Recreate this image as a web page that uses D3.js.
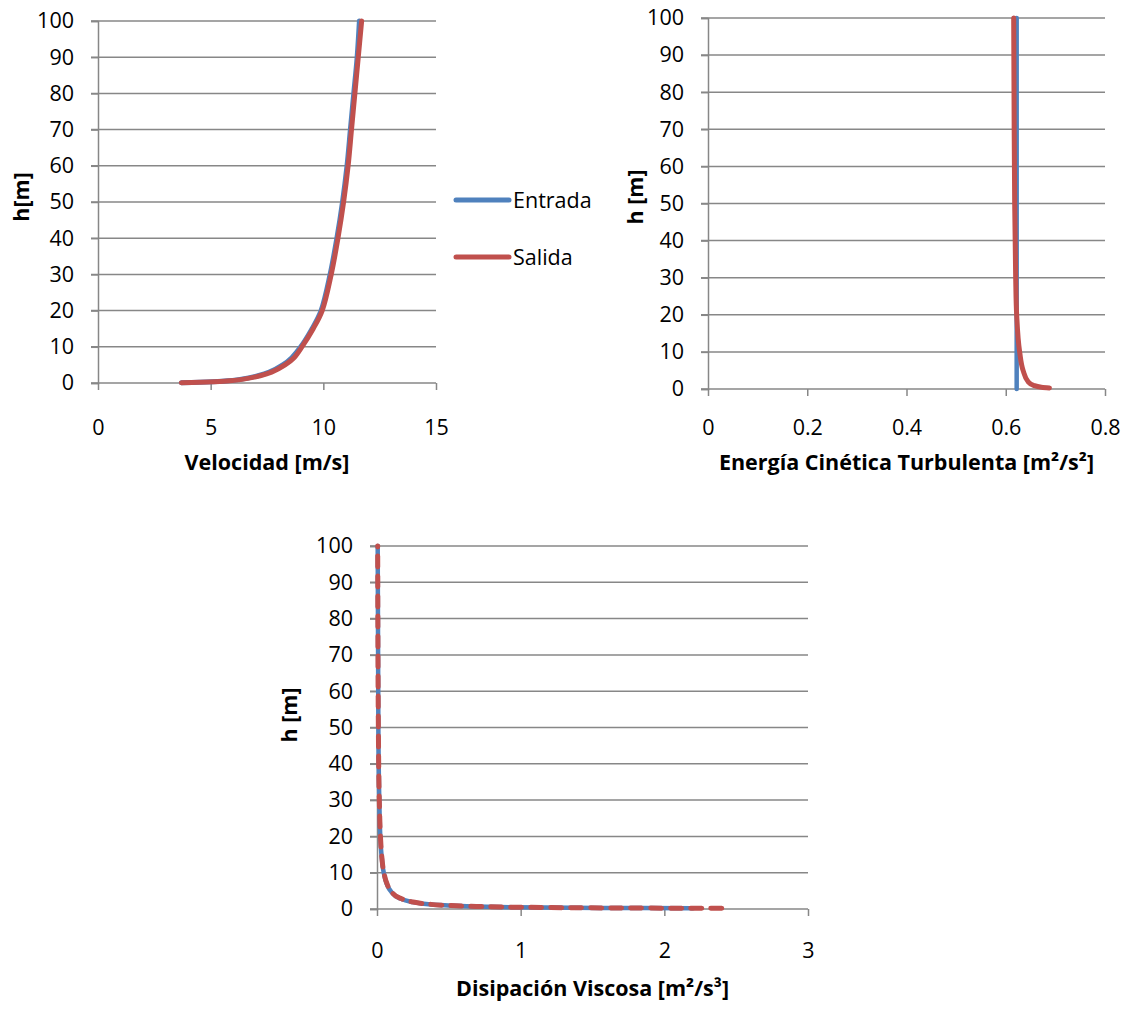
<!DOCTYPE html>
<html>
<head>
<meta charset="utf-8">
<script src="https://cdn.jsdelivr.net/npm/d3@7"></script>
<style>
  body { margin: 0; background: #fff; }
  text { font-family: "Open Sans", sans-serif; fill: #000; }
</style>
</head>
<body>
<div id="fig"></div>
<script>
// Settings
const SIZE = [1128, 1012]
const BLUE = "#4f81bd"
const RED = "#c0504d"
const GRID = "#878787"
const FONT = 21.5

// Velocidad (m/s) vs h (m)
const hVel = [0.1, 0.2, 0.5, 1, 2, 3, 5, 7, 10, 15, 20, 30, 40, 50, 60, 70, 80, 90, 100]
const velEntrada = [3.7, 4.5, 5.5, 6.3, 7.1, 7.6, 8.2, 8.6, 9.0, 9.5, 9.9, 10.3, 10.6, 10.85, 11.05, 11.2, 11.35, 11.5, 11.6]
const velSalida = [3.7, 4.5, 5.6, 6.4, 7.2, 7.7, 8.3, 8.7, 9.05, 9.55, 9.95, 10.35, 10.65, 10.9, 11.1, 11.25, 11.4, 11.55, 11.7]

// Energía cinética turbulenta (m2/s2) vs h (m)
const hTkeEntrada = [0, 100]
const tkeEntrada = [0.622, 0.622]
const hTkeSalida = [0.3, 0.5, 1, 2, 5, 10, 20, 30, 50, 70, 100]
const tkeSalida = [0.688, 0.672, 0.656, 0.645, 0.635, 0.628, 0.622, 0.62, 0.618, 0.617, 0.616]

// Disipación viscosa (m2/s3) vs h (m)
const hEps = [0.2, 0.25, 0.3, 0.4, 0.5, 0.7, 1, 1.5, 2, 3, 5, 7, 10, 15, 20, 30, 50, 100]
const epsEntrada = [2.2, 1.85, 1.55, 1.17, 0.94, 0.67, 0.47, 0.31, 0.235, 0.155, 0.094, 0.067, 0.047, 0.031, 0.023, 0.016, 0.0095, 0.0048]
const epsSalida = [2.4, 1.9, 1.6, 1.2, 0.96, 0.69, 0.48, 0.32, 0.24, 0.16, 0.096, 0.069, 0.048, 0.032, 0.024, 0.016, 0.0096, 0.0048]

const hTicks = d3.range(0, 101, 10)
const velTicks = [0, 5, 10, 15]
const tkeTicks = [0, 0.2, 0.4, 0.6, 0.8]
const epsTicks = [0, 1, 2, 3]

const legendLabels = ["Entrada", "Salida"]

const svg = d3.select("#fig").append("svg")
  .attr("width", SIZE[0])
  .attr("height", SIZE[1])

svg.append("rect").attr("width", SIZE[0]).attr("height", SIZE[1]).attr("fill", "#fff")

const zip = (hs, xs) => hs.map((h, i) => ({h: h, x: xs[i]}))

function createPanel(cfg) {
  const x = d3.scaleLinear().domain(cfg.xDomain).range(cfg.xRange)
  const y = d3.scaleLinear().domain([0, 100]).range(cfg.yRange)
  const g = svg.append("g")

  // horizontal grid
  g.append("g")
    .selectAll("line")
    .data(hTicks)
    .join("line")
      .attr("x1", cfg.xRange[0] - 7)
      .attr("x2", cfg.xRange[1])
      .attr("y1", d => y(d))
      .attr("y2", d => y(d))
      .attr("stroke", GRID)
      .attr("stroke-width", 1.5)

  // y axis
  const yAxis = g.append("g")
    .attr("transform", `translate(${cfg.xRange[0]},0)`)
    .call(d3.axisLeft(y).tickValues(hTicks).tickSize(7).tickPadding(17).tickFormat(d3.format("d")))
  yAxis.select(".domain").attr("stroke", GRID).attr("stroke-width", 1.5)
  yAxis.selectAll(".tick line").attr("stroke", GRID).attr("stroke-width", 1.5)
  yAxis.selectAll(".tick text").attr("font-size", FONT).attr("font-family", "Open Sans").attr("fill", "#000")

  // x axis
  const xAxis = g.append("g")
    .attr("transform", `translate(0,${cfg.yRange[0]})`)
    .call(d3.axisBottom(x).tickValues(cfg.xTicks).tickSize(7).tickSizeOuter(0).tickPadding(cfg.xPad).tickFormat(d => String(d)))
  xAxis.select(".domain").remove()
  xAxis.selectAll(".tick line").attr("stroke", GRID).attr("stroke-width", 1.5)
  xAxis.selectAll(".tick text").attr("font-size", FONT).attr("font-family", "Open Sans").attr("fill", "#000")

  const line = d3.line()
    .x(d => x(d.x))
    .y(d => y(d.h))
    .curve(cfg.curve)

  for (const s of cfg.series) {
    g.append("path")
      .datum(s.data)
      .attr("fill", "none")
      .attr("stroke", s.color)
      .attr("stroke-width", s.width)
      .attr("stroke-linecap", "round")
      .attr("stroke-linejoin", "round")
      .attr("stroke-dasharray", s.dash || null)
      .attr("d", line)
  }

  // titles
  g.append("text")
    .attr("x", (cfg.xRange[0] + cfg.xRange[1]) / 2)
    .attr("y", cfg.xTitleY)
    .attr("text-anchor", "middle")
    .attr("font-size", FONT)
    .attr("font-weight", "bold")
    .text(cfg.xTitle)

  g.append("text")
    .attr("transform", `translate(${cfg.yTitleX},${cfg.yTitleY}) rotate(-90)`)
    .attr("text-anchor", "middle")
    .attr("dominant-baseline", "middle")
    .attr("font-size", FONT)
    .attr("font-weight", "bold")
    .text(cfg.yTitle)
}

createPanel({
  xDomain: [0, 15], xRange: [98, 436], yRange: [383, 21],
  xTicks: velTicks, xPad: 30, curve: d3.curveCatmullRom.alpha(0.5),
  xTitle: "Velocidad [m/s]", xTitleY: 470,
  yTitle: "h[m]", yTitleX: 23, yTitleY: 197,
  series: [
    {data: zip(hVel, velEntrada), color: BLUE, width: 5},
    {data: zip(hVel, velSalida), color: RED, width: 5}
  ]
})

createPanel({
  xDomain: [0, 0.8], xRange: [708, 1105], yRange: [389, 18],
  xTicks: tkeTicks, xPad: 24, curve: d3.curveMonotoneY,
  xTitle: "Energía Cinética Turbulenta [m²/s²]", xTitleY: 470,
  yTitle: "h [m]", yTitleX: 637, yTitleY: 197,
  series: [
    {data: zip(hTkeEntrada, tkeEntrada), color: BLUE, width: 4.5},
    {data: zip(hTkeSalida, tkeSalida), color: RED, width: 5}
  ]
})

createPanel({
  xDomain: [0, 3], xRange: [377, 808], yRange: [909, 546],
  xTicks: epsTicks, xPad: 27, curve: d3.curveMonotoneY,
  xTitle: "Disipación Viscosa [m²/s³]", xTitleY: 996,
  yTitle: "h [m]", yTitleX: 291, yTitleY: 715,
  series: [
    {data: zip(hEps, epsEntrada), color: BLUE, width: 4.5},
    {data: zip(hEps, epsSalida), color: RED, width: 5, dash: "11,9"}
  ]
})

// legend
const legend = svg.append("g")
  .selectAll("g")
  .data(legendLabels)
  .join("g")
    .attr("transform", (d, i) => `translate(456,${200 + i * 57})`)
legend.append("line")
  .attr("x1", 0).attr("x2", 53)
  .attr("stroke", (d, i) => [BLUE, RED][i])
  .attr("stroke-width", 5)
  .attr("stroke-linecap", "round")
legend.append("text")
  .attr("x", 57)
  .attr("dy", "0.35em")
  .attr("font-size", FONT)
  .text(d => d)
</script>
</body>
</html>
